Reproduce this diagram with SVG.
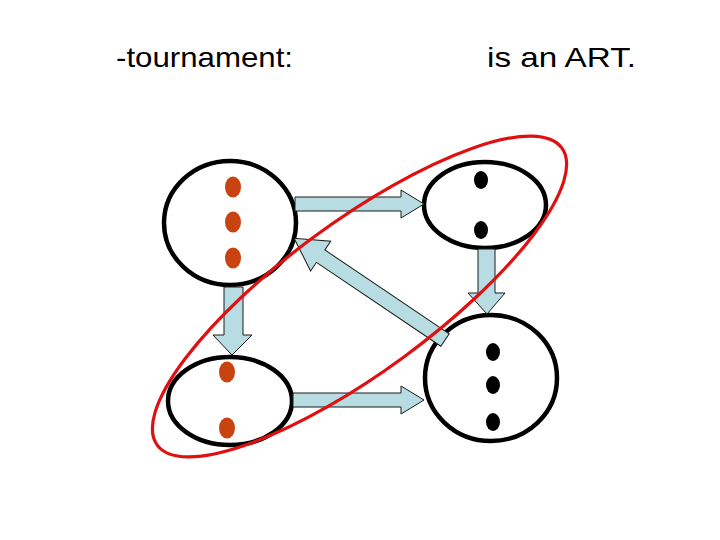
<svg xmlns="http://www.w3.org/2000/svg" width="720" height="540" viewBox="0 0 720 540">
<style>
.t{font-family:"Liberation Sans",Arial,sans-serif;font-size:28px;fill:#000}
.node{fill:#fff;stroke:#000;stroke-width:4.5}
.arr{fill:#b7dde2;stroke:#1a1a1a;stroke-width:1}
.rd{fill:#c8430f}
.bd{fill:#000}
</style>
<rect width="720" height="540" fill="#fff"/>
<text class="t" x="116" y="67" textLength="177" lengthAdjust="spacingAndGlyphs">-tournament:</text>
<text class="t" x="487" y="67" textLength="149" lengthAdjust="spacingAndGlyphs">is an ART.</text>
<g id="n1"><ellipse class="node" cx="230" cy="223" rx="66" ry="62"/>
<ellipse class="rd" cx="233" cy="187" rx="8" ry="10.5"/><ellipse class="rd" cx="233" cy="222" rx="8" ry="10.5"/><ellipse class="rd" cx="233" cy="258" rx="8" ry="10.5"/></g>
<g id="n2"><ellipse class="node" cx="485" cy="205" rx="61" ry="43"/>
<ellipse class="bd" cx="481" cy="180" rx="7" ry="9"/><ellipse class="bd" cx="481" cy="230" rx="7" ry="9"/></g>
<g id="n3"><ellipse class="node" cx="230" cy="401" rx="62" ry="44"/>
<ellipse class="rd" cx="227" cy="372" rx="8" ry="10.5"/><ellipse class="rd" cx="227" cy="428" rx="8" ry="10.5"/></g>
<g id="n4"><ellipse class="node" cx="491" cy="378" rx="66" ry="63"/>
<ellipse class="bd" cx="493" cy="352" rx="7" ry="9"/><ellipse class="bd" cx="493" cy="385" rx="7" ry="9"/><ellipse class="bd" cx="493" cy="422" rx="7" ry="9"/></g>
<g id="connectors">
<path class="arr" d="M295,197 L401,197 L401,190 L424,204 L401,218 L401,211 L295,211 Z"/>
<path class="arr" d="M293,393 L401,393 L401,386 L424,400 L401,414 L401,407 L293,407 Z"/>
<path class="arr" d="M224,287 L243,287 L243,335 L252,335 L232,355 L213,335 L224,335 Z"/>
<path class="arr" d="M478,249 L495,249 L495,293 L505,293 L487,314 L468,293 L478,293 Z"/>
<path class="arr" transform="translate(445,340) rotate(214)" d="M0,-7.5 L150,-7.5 L150,-18 L182,0 L150,18 L150,7.5 L0,7.5 Z"/>
</g>
<ellipse id="art" cx="359.5" cy="296.5" rx="251" ry="75" transform="rotate(-36.3 359.5 296.5)" fill="none" stroke="#e01010" stroke-width="3.2"/>
</svg>
